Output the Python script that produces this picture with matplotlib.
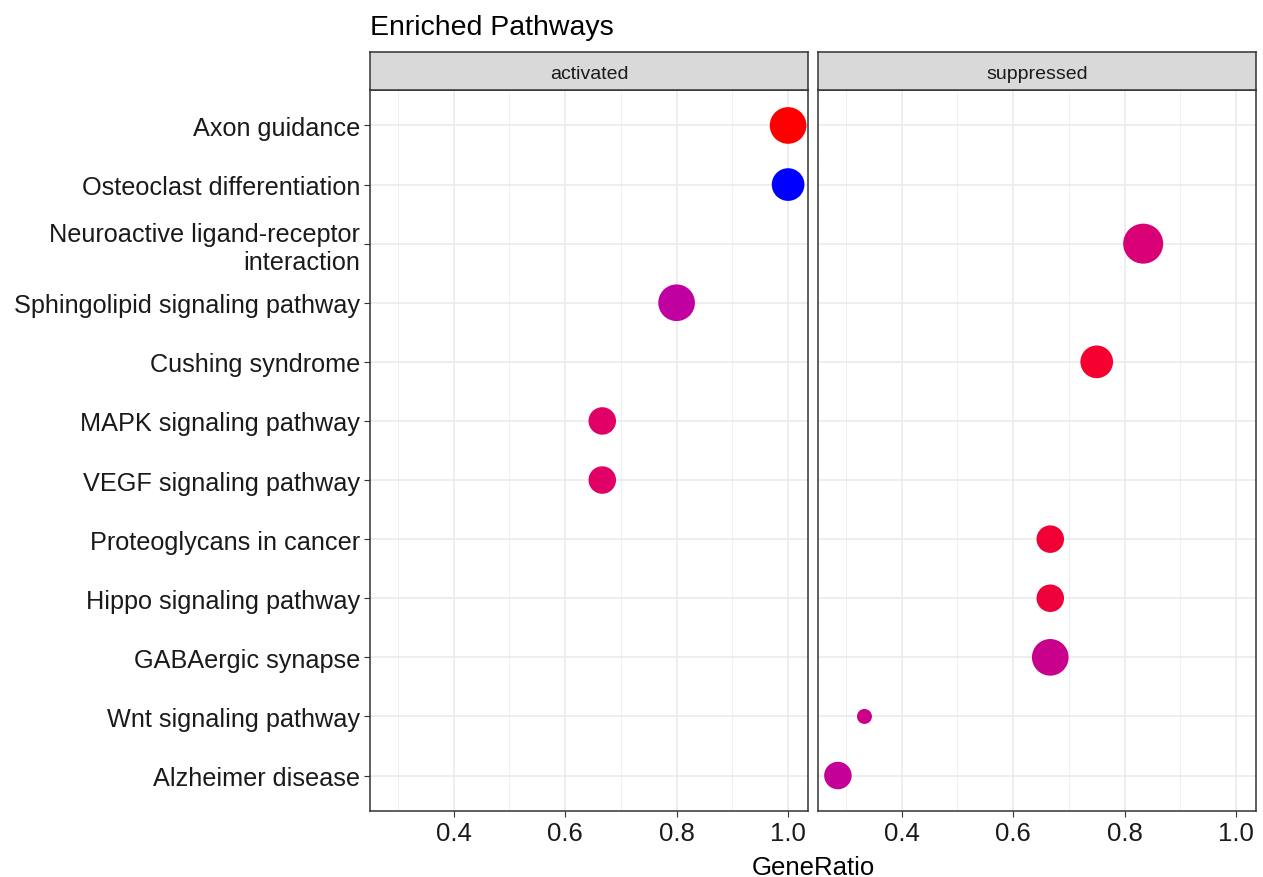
import numpy as np
import matplotlib.pyplot as plt

plt.rcParams['font.family'] = ['Liberation Sans', 'DejaVu Sans']

# enriched pathways, top to bottom
pathways = [
    "Axon guidance",
    "Osteoclast differentiation",
    "Neuroactive ligand-receptor\ninteraction",
    "Sphingolipid signaling pathway",
    "Cushing syndrome",
    "MAPK signaling pathway",
    "VEGF signaling pathway",
    "Proteoglycans in cancer",
    "Hippo signaling pathway",
    "GABAergic synapse",
    "Wnt signaling pathway",
    "Alzheimer disease",
]
groups = ["activated", "activated", "suppressed", "activated", "suppressed",
          "activated", "activated", "suppressed", "suppressed", "suppressed",
          "suppressed", "suppressed"]
gene_ratio = [1.0, 1.0, 5/6, 0.8, 0.75, 2/3, 2/3, 2/3, 2/3, 2/3, 1/3, 2/7]
counts = [4, 3, 5, 4, 3, 2, 2, 2, 2, 4, 1, 2]
# colour from adjusted p-value (red = low, blue = high)
point_colors = ["#FF0000", "#0000FF", "#D90075", "#C000A0", "#F5002F",
                "#E00066", "#E00066", "#F00035", "#EE003A", "#C8008C",
                "#CC0088", "#C40098"]
facets = ["activated", "suppressed"]
x_ticks = [0.4, 0.6, 0.8, 1.0]

W, H = 1263, 878
fig = plt.figure(figsize=(W / 100, H / 100), dpi=100)

n = len(pathways)
ypos = np.arange(n)[::-1]  # first pathway on top
x_lo = min(gene_ratio)
x_hi = max(gene_ratio)
pad = (x_hi - x_lo) * 0.05

# ggplot-like area scale: diameter in px from count
cmin, cmax = min(counts), max(counts)
diam_px = 15 + 25 * np.sqrt((np.array(counts) - cmin) / (cmax - cmin))
sizes = (diam_px * 72 / 100) ** 2

panel_left = [370, 818]
panel_w = 438
panel_top, panel_bot = 91, 812
strip_top = 53

for i, facet in enumerate(facets):
    x0 = panel_left[i]
    ax = fig.add_axes([x0 / W, 1 - panel_bot / H, panel_w / W, (panel_bot - panel_top) / H])
    mask = np.array([g == facet for g in groups])
    ax.scatter(np.array(gene_ratio)[mask], ypos[mask], s=sizes[mask],
               c=np.array(point_colors)[mask], linewidths=0, zorder=3)
    ax.set_xlim(x_lo - pad, x_hi + pad)
    ax.set_ylim(-0.6, n - 1 + 0.6)
    ax.set_xticks(x_ticks)
    ax.set_xticklabels([f"{t:.1f}" for t in x_ticks])
    ax.set_xticks([0.3, 0.5, 0.7, 0.9], minor=True)
    ax.set_yticks(ypos)
    ax.grid(True, which="major", color="#EBEBEB", linewidth=1.2, zorder=0)
    ax.grid(True, which="minor", axis="x", color="#F0F0F0", linewidth=0.7, zorder=0)
    ax.set_axisbelow(True)
    ax.tick_params(axis="x", which="major", labelsize=18.5, labelcolor="#1a1a1a",
                   color="#333333", length=4, width=0.8, pad=3)
    ax.tick_params(axis="x", which="minor", length=0)
    if i == 0:
        ax.set_yticklabels(pathways, fontsize=18.2, color="#1a1a1a",
                           linespacing=1.2, ha="right")
        ax.tick_params(axis="y", color="#333333", length=4, width=0.8, pad=3)
    else:
        ax.set_yticklabels([])
        ax.tick_params(axis="y", length=0)
    for sp in ax.spines.values():
        sp.set_color("#333333")
        sp.set_linewidth(1.1)

    # facet strip
    sax = fig.add_axes([x0 / W, 1 - panel_top / H, panel_w / W, (panel_top - strip_top) / H])
    sax.set_facecolor("#D9D9D9")
    sax.set_xticks([])
    sax.set_yticks([])
    for sp in sax.spines.values():
        sp.set_color("#333333")
        sp.set_linewidth(1.1)
    sax.text(0.5, 0.44, facet, ha="center", va="center", fontsize=14,
             color="#1a1a1a", transform=sax.transAxes)

fig.text(370 / W, 1 - 28 / H, "Enriched Pathways", fontsize=20.5, ha="left", va="center")
fig.text((370 + 1256) / 2 / W, 1 - 868 / H, "GeneRatio", fontsize=18.5,
         ha="center", va="center")

fig.savefig("out.png", dpi=100, facecolor="white")
